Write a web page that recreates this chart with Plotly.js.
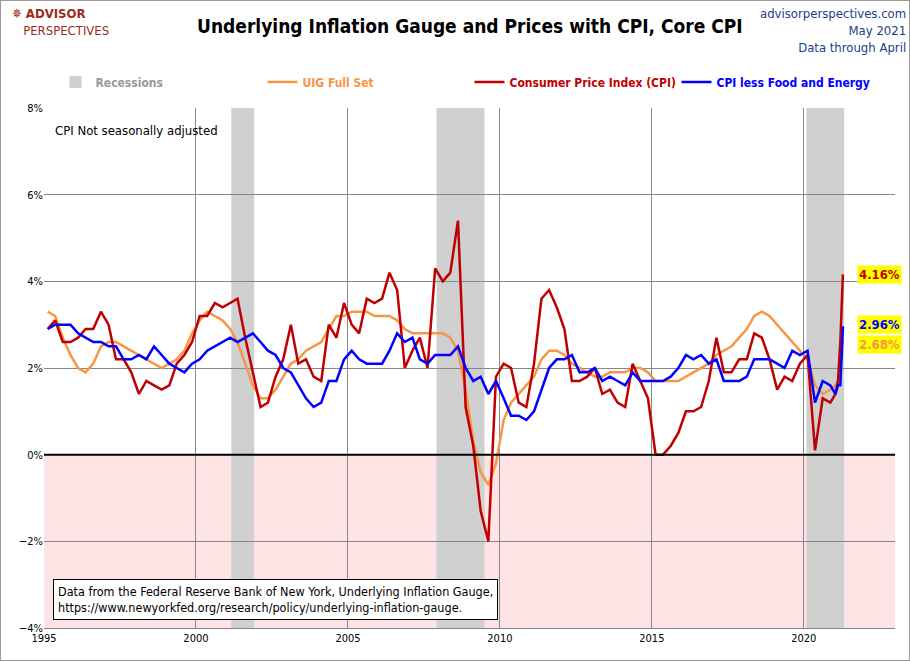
<!DOCTYPE html>
<html>
<head>
<meta charset="utf-8">
<script src="https://cdn.plot.ly/plotly-3.0.1.min.js"></script>
<style>
body { margin: 0; }
#chart { width: 908px; height: 659px; border: 1px solid #999; }
</style>
</head>
<body>
<div id="chart"></div>
<script>
// quarterly values 1995-2020 (mid-quarter months), then monthly Jan-Apr 2021
var cpi = [
  2.9, 3.1, 2.6, 2.6,  2.7, 2.9, 2.9, 3.3,  3.0, 2.2, 2.2, 1.9,  1.4, 1.7, 1.6, 1.5,
  1.6, 2.1, 2.3, 2.6,  3.2, 3.2, 3.5, 3.4,  3.5, 3.6, 2.7, 1.9,  1.1, 1.2, 1.8, 2.2,
  3.0, 2.1, 2.2, 1.8,  1.7, 3.0, 2.7, 3.5,  3.0, 2.8, 3.6, 3.5,  3.6, 4.2, 3.8, 2.0,
  2.4, 2.7, 2.0, 4.3,  4.0, 4.2, 5.4, 1.1,  0.2, -1.3, -2.0, 1.8, 2.1, 2.0, 1.2, 1.1,
  2.1, 3.6, 3.8, 3.4,  2.9, 1.7, 1.7, 1.8,  2.0, 1.4, 1.5, 1.2,  1.1, 2.1, 1.7, 1.3,
  0.0, 0.0, 0.2, 0.5,  1.0, 1.0, 1.1, 1.7,  2.7, 1.9, 1.9, 2.2,  2.2, 2.8, 2.7, 2.2,
  1.5, 1.8, 1.7, 2.1,  2.3, 0.1, 1.3, 1.2,  1.4, 1.7, 2.6, 4.16
];
var core = [
  2.9, 3.0, 3.0, 3.0,  2.8, 2.7, 2.6, 2.6,  2.5, 2.5, 2.2, 2.2,  2.3, 2.2, 2.5, 2.3,
  2.1, 2.0, 1.9, 2.1,  2.2, 2.4, 2.5, 2.6,  2.7, 2.6, 2.7, 2.8,  2.6, 2.4, 2.3, 2.0,
  1.9, 1.6, 1.3, 1.1,  1.2, 1.7, 1.7, 2.2,  2.4, 2.2, 2.1, 2.1,  2.1, 2.4, 2.8, 2.6,
  2.7, 2.2, 2.1, 2.3,  2.3, 2.3, 2.5, 2.0,  1.7, 1.8, 1.4, 1.7,  1.3, 0.9, 0.9, 0.8,
  1.0, 1.5, 2.0, 2.2,  2.2, 2.3, 1.9, 1.9,  2.0, 1.7, 1.8, 1.7,  1.6, 1.9, 1.7, 1.7,
  1.7, 1.7, 1.8, 2.0,  2.3, 2.2, 2.3, 2.1,  2.2, 1.7, 1.7, 1.7,  1.8, 2.2, 2.2, 2.2,
  2.1, 2.0, 2.4, 2.3,  2.4, 1.2, 1.7, 1.6,  1.4, 1.6, 1.6, 2.96
];
var uig = [
  3.3, 3.2, 2.7, 2.3,  2.0, 1.9, 2.1, 2.5,  2.6, 2.6, 2.5, 2.4,  2.3, 2.2, 2.1, 2.0,
  2.1, 2.2, 2.4, 2.8,  3.1, 3.3, 3.2, 3.1,  2.9, 2.6, 2.1, 1.6,  1.3, 1.3, 1.5, 1.8,
  2.1, 2.2, 2.4, 2.5,  2.6, 2.9, 3.2, 3.2,  3.3, 3.3, 3.3, 3.2,  3.2, 3.2, 3.1, 2.9,
  2.8, 2.8, 2.8, 2.8,  2.8, 2.7, 2.4, 1.5,  0.3, -0.4, -0.7, -0.2, 0.8, 1.2, 1.4, 1.6,
  1.8, 2.2, 2.4, 2.4,  2.3, 2.1, 2.0, 1.9,  1.8, 1.8, 1.9, 1.9,  1.9, 2.0, 2.0, 1.9,
  1.7, 1.7, 1.7, 1.7,  1.8, 1.9, 2.0, 2.1,  2.3, 2.4, 2.5, 2.7,  2.9, 3.2, 3.3, 3.2,
  3.0, 2.8, 2.6, 2.4,  2.2, 1.6, 1.4, 1.5,  1.6, 1.7, 2.0, 2.68
];
var recessions = [['2001-03-01', '2001-11-30'], ['2007-12-01', '2009-06-30'], ['2020-02-01', '2021-04-30']];
var sourceText = 'Data from the Federal Reserve Bank of New York, Underlying Inflation Gauge,<br>https://www.newyorkfed.org/research/policy/underlying-inflation-gauge.';

var dates = [];
for (var y = 1995; y <= 2020; y++) {
  ['02', '05', '08', '11'].forEach(function(m) { dates.push(y + '-' + m + '-15'); });
}
['01', '02', '03', '04'].forEach(function(m) { dates.push('2021-' + m + '-15'); });

var font = 'DejaVu Sans Condensed, Arial Narrow, sans-serif';

var traces = [
  { x: [null], y: [null], name: 'Recessions', mode: 'markers',
    marker: { symbol: 'square', size: 12, color: '#d0d0d0' } },
  { x: dates, y: uig, name: 'UIG Full Set', mode: 'lines', line: { color: '#f79646', width: 2.5 } },
  { x: dates, y: cpi, name: 'Consumer Price Index (CPI)', mode: 'lines', line: { color: '#c00000', width: 2.5 } },
  { x: dates, y: core, name: 'CPI less Food and Energy', mode: 'lines', line: { color: '#0000ff', width: 2.5 } }
];

var shapes = [
  { type: 'rect', xref: 'paper', x0: 0, x1: 1, yref: 'y', y0: -4, y1: 0, fillcolor: '#fde3e3', line: { width: 0 }, layer: 'below' }
];
recessions.forEach(function(r) {
  shapes.push({ type: 'rect', xref: 'x', x0: r[0], x1: r[1], yref: 'paper', y0: 0, y1: 1,
    fillcolor: '#d0d0d0', line: { width: 0 }, layer: 'below' });
});
shapes.push({ type: 'line', xref: 'paper', x0: 0, x1: 1, yref: 'y', y0: 0, y1: 0, line: { color: '#000', width: 2 } });

function valLabel(v, y, color) {
  return { xref: 'paper', x: 0.955, yref: 'y', y: y, text: '<b>' + v.toFixed(2) + '%</b>', showarrow: false,
    xanchor: 'left', font: { family: font, size: 13, color: color }, bgcolor: '#ffff00' };
}

var annotations = [
  { xref: 'paper', yref: 'paper', x: 0.5, y: 1.157, yanchor: 'middle', text: '<b>Underlying Inflation Gauge and Prices with CPI, Core CPI</b>',
    showarrow: false, font: { family: font, size: 19, color: '#000' } },
  { xref: 'paper', yref: 'paper', x: 1.015, y: 1.2, xanchor: 'right', yanchor: 'top', align: 'right', showarrow: false,
    text: 'advisorperspectives.com<br>May 2021<br>Data through April', font: { family: font, size: 13, color: '#1f3c88' } },
  { xref: 'paper', yref: 'paper', x: -0.04, y: 1.2, xanchor: 'left', yanchor: 'top', align: 'left', showarrow: false,
    text: '<b>✵ ADVISOR</b><br>   PERSPECTIVES', font: { family: font, size: 13, color: '#9b2a1e' } },
  { xref: 'paper', yref: 'paper', x: 0.01, y: 0.975, xanchor: 'left', yanchor: 'top', showarrow: false,
    text: 'CPI Not seasonally adjusted', font: { family: font, size: 13, color: '#000' } },
  { xref: 'paper', yref: 'paper', x: 0.01, y: 0.015, xanchor: 'left', yanchor: 'bottom', align: 'left', showarrow: false,
    text: sourceText, font: { family: font, size: 12.5, color: '#000' }, bgcolor: '#fff', bordercolor: '#000', borderwidth: 1, borderpad: 4 },
  valLabel(cpi[cpi.length - 1], 4.16, '#c00000'),
  valLabel(core[core.length - 1], 3.0, '#0000ff'),
  valLabel(uig[uig.length - 1], 2.55, '#f79646')
];

var layout = {
  width: 908, height: 659,
  margin: { l: 43, r: 14, t: 107, b: 32 },
  paper_bgcolor: '#fff', plot_bgcolor: '#fff',
  font: { family: font, size: 11, color: '#000' },
  showlegend: true,
  legend: { orientation: 'h', x: 0.5, xanchor: 'center', y: 1.05, yanchor: 'middle',
    font: { family: font, size: 12, color: '#888' }, entrywidth: 162, traceorder: 'normal' },
  xaxis: { type: 'date', range: ['1995-01-01', '2023-01-01'], dtick: 'M60', tick0: '1995-01-01',
    tickformat: '%Y', showgrid: true, gridcolor: '#888', gridwidth: 1, zeroline: false,
    showline: true, linecolor: '#888', ticks: '', tickfont: { size: 11 } },
  yaxis: { range: [-4, 8], dtick: 2, ticksuffix: '%', showgrid: true, gridcolor: '#888', zeroline: false,
    showline: false, ticks: '', tickfont: { size: 11 } },
  shapes: shapes,
  annotations: annotations
};

Plotly.newPlot('chart', traces, layout, { displayModeBar: false, staticPlot: true }).then(function() {
  // colour legend texts like their series
  var colors = ['#999', '#f79646', '#c00000', '#0000ff'];
  document.querySelectorAll('.legendtext').forEach(function(t, i) { t.style.fill = colors[i]; t.style.fontWeight = 'bold'; });
});
</script>
</body>
</html>
